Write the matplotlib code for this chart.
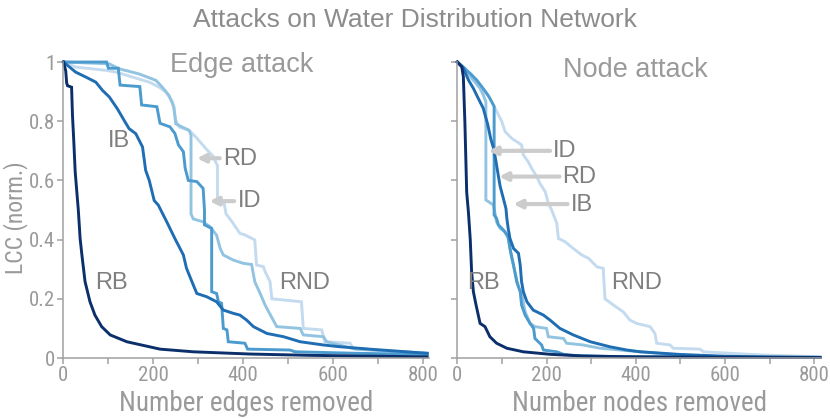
import matplotlib
matplotlib.use("Agg")
import matplotlib.pyplot as plt
from matplotlib import font_manager

# fuentes: una estrecha si existe, si no la normal con tamaño menor
nombres = {f.name for f in font_manager.fontManager.ttflist}
narrow = None
for cand in ['Liberation Sans Narrow', 'Roboto Condensed', 'DejaVu Sans Condensed', 'Open Sans Condensed']:
    if cand in nombres:
        narrow = cand
        break
regular = 'Liberation Sans'
if narrow is None:
    narrow = regular
    size_lbl, size_ylbl, size_tick = 16.5, 14.5, 12.5
elif narrow == 'DejaVu Sans Condensed':
    size_lbl, size_ylbl, size_tick = 16.5, 14.5, 12.5
else:
    size_lbl, size_ylbl, size_tick = 19.5, 17, 15

# ---- datos: ataque por aristas ----
rnd_edge_x = [0, 27, 94, 117, 154, 191, 213, 228, 243, 250, 258, 280, 295, 321, 332, 343, 343, 358, 362, 376,
              393, 404, 426, 430, 445, 449, 460, 464, 530, 534, 575, 582, 638, 645, 720, 810]
rnd_edge_y = [1, 0.983, 0.972, 0.966, 0.949, 0.932, 0.915, 0.899, 0.865, 0.803, 0.78, 0.769, 0.746, 0.701, 0.684,
              0.65, 0.543, 0.521, 0.487, 0.459, 0.421, 0.416, 0.399, 0.314, 0.309, 0.292, 0.258, 0.20, 0.19, 0.10,
              0.095, 0.055, 0.05, 0.033, 0.024, 0.016]

rd_edge_x = [0, 50, 102, 124, 168, 206, 220, 235, 246, 250, 265, 280, 284, 284, 289, 311, 326, 341, 349, 356,
             378, 400, 419, 426, 438, 449, 467, 475, 527, 534, 579, 586, 650, 810]
rd_edge_y = [1, 0.997, 0.994, 0.977, 0.96, 0.938, 0.915, 0.887, 0.848, 0.791, 0.78, 0.769, 0.752, 0.487, 0.47,
             0.46, 0.444, 0.415, 0.37, 0.348, 0.331, 0.32, 0.316, 0.258, 0.218, 0.179, 0.128, 0.106, 0.10, 0.078,
             0.072, 0.055, 0.03, 0.016]

id_edge_x = [0, 96, 100, 122, 126, 170, 174, 208, 215, 237, 248, 256, 267, 271, 278, 297, 311, 314, 314, 330,
             330, 341, 345, 352, 356, 364, 367, 404, 410, 504, 516, 650, 810]
id_edge_y = [1, 1.0, 0.979, 0.979, 0.922, 0.917, 0.855, 0.849, 0.793, 0.781, 0.759, 0.72, 0.697, 0.641, 0.60,
             0.596, 0.573, 0.50, 0.45, 0.438, 0.224, 0.218, 0.19, 0.185, 0.10, 0.095, 0.055, 0.05, 0.03, 0.027,
             0.021, 0.016, 0.012]

ib_edge_x = [0, 27, 50, 72, 87, 102, 120, 135, 146, 161, 176, 183, 191, 202, 211, 230, 248, 267, 274, 289, 297,
             319, 341, 356, 378, 393, 408, 423, 453, 490, 527, 579, 616, 690, 810]
ib_edge_y = [1, 0.966, 0.949, 0.932, 0.904, 0.882, 0.842, 0.803, 0.775, 0.758, 0.713, 0.634, 0.60, 0.532, 0.517,
             0.46, 0.404, 0.348, 0.303, 0.247, 0.218, 0.207, 0.19, 0.162, 0.151, 0.145, 0.128, 0.106, 0.083, 0.072,
             0.055, 0.044, 0.038, 0.029, 0.016]

rb_edge_x = [0, 5, 7, 9, 18, 20, 23, 26, 29, 33, 37, 41, 48, 59, 70, 85, 104, 141, 215, 289, 415, 550, 700, 810]
rb_edge_y = [1, 0.97, 0.93, 0.92, 0.915, 0.82, 0.73, 0.63, 0.574, 0.5, 0.404, 0.348, 0.258, 0.19, 0.145, 0.106,
             0.078, 0.055, 0.030, 0.021, 0.0135, 0.009, 0.006, 0.004]

# ---- datos: ataque por nodos ----
rnd_node_x = [0, 13.5, 28.4, 43, 58, 69.5, 84.5, 99.5, 107, 122, 144, 148, 159, 167, 178, 185, 197, 204, 211.5,
              223, 226.5, 241.5, 260, 279, 294, 313, 327, 331, 350, 372, 387, 402, 432, 443, 447, 477, 484, 544,
              552, 611, 686, 813]
rnd_node_y = [1, 0.984, 0.95, 0.928, 0.90, 0.888, 0.844, 0.80, 0.765, 0.742, 0.72, 0.686, 0.663, 0.64, 0.613,
              0.59, 0.562, 0.523, 0.50, 0.455, 0.404, 0.393, 0.37, 0.348, 0.337, 0.308, 0.303, 0.20, 0.179, 0.156,
              0.128, 0.117, 0.106, 0.083, 0.05, 0.044, 0.033, 0.030, 0.021, 0.016, 0.01, 0.004]

rd_node_x = [0, 17, 36, 51, 58, 64, 64, 81, 88, 96, 107, 114, 122, 129, 137, 144, 152, 163, 174, 200, 204, 238,
             245, 282, 320, 410, 500, 600, 813]
rd_node_y = [1, 0.979, 0.939, 0.911, 0.889, 0.866, 0.534, 0.517, 0.46, 0.438, 0.427, 0.404, 0.337, 0.292, 0.241,
             0.218, 0.156, 0.117, 0.106, 0.10, 0.072, 0.066, 0.05, 0.044, 0.033, 0.021, 0.01, 0.004, 0.002]

id_node_x = [0, 28.5, 43.5, 54.7, 66, 73, 82.5, 82.5, 88, 92, 103, 114, 118, 126, 133, 141, 144, 152, 163, 171,
             174, 189, 193, 223, 238, 267, 357, 813]
id_node_y = [1, 0.962, 0.939, 0.917, 0.894, 0.877, 0.85, 0.483, 0.472, 0.45, 0.433, 0.41, 0.37, 0.314, 0.258,
             0.224, 0.179, 0.145, 0.117, 0.10, 0.066, 0.044, 0.027, 0.021, 0.0125, 0.008, 0.0045, 0.002]

ib_node_x = [0, 13.5, 25, 36, 47, 58, 68, 75, 81, 86, 92, 96, 103, 109, 111, 114, 118, 126, 137, 141, 144, 148,
             156, 170, 193, 208, 230, 260, 298, 342, 380, 410, 500, 600, 700, 813]
ib_node_y = [1, 0.979, 0.939, 0.911, 0.877, 0.844, 0.79, 0.74, 0.71, 0.67, 0.615, 0.58, 0.54, 0.505, 0.472, 0.438,
             0.404, 0.37, 0.354, 0.314, 0.258, 0.224, 0.19, 0.162, 0.145, 0.128, 0.10, 0.078, 0.055, 0.038, 0.027,
             0.021, 0.012, 0.006, 0.003, 0.002]

rb_node_x = [0, 10, 13.5, 17, 21, 25, 29, 32, 36, 42, 51, 62, 73, 88, 111, 148, 208, 282, 400, 550, 813]
rb_node_y = [1, 0.984, 0.95, 0.793, 0.56, 0.49, 0.40, 0.292, 0.224, 0.179, 0.117, 0.106, 0.072, 0.05, 0.033,
             0.021, 0.0125, 0.0068, 0.004, 0.003, 0.002]

colores = {'RND': '#c4dbef', 'RD': '#92c4e2', 'ID': '#4b9bcf', 'IB': '#1f6db3', 'RB': '#0b2f6b'}
gris_eje = '#a0a0a0'
gris_txt = '#9a9a9a'
gris_lbl = '#7f7f7f'
gris_flecha = '#cccccc'

fig = plt.figure(figsize=(8.3, 4.18), dpi=100)
ax1 = fig.add_axes([0.0765, 0.1435, 0.4409, 0.7081])
ax2 = fig.add_axes([0.551, 0.1435, 0.438, 0.7081])

series_edge = [('RND', rnd_edge_x, rnd_edge_y), ('RD', rd_edge_x, rd_edge_y), ('ID', id_edge_x, id_edge_y),
               ('IB', ib_edge_x, ib_edge_y), ('RB', rb_edge_x, rb_edge_y)]
series_node = [('RND', rnd_node_x, rnd_node_y), ('RD', rd_node_x, rd_node_y), ('ID', id_node_x, id_node_y),
               ('IB', ib_node_x, ib_node_y), ('RB', rb_node_x, rb_node_y)]

for ax, series in [(ax1, series_edge), (ax2, series_node)]:
    for nombre, xs, ys in series:
        ax.plot(xs, ys, color=colores[nombre], lw=2.1, clip_on=False, solid_joinstyle='miter')
    ax.set_xlim(0, 815)
    ax.set_ylim(0, 1)
    for lado in ['top', 'right']:
        ax.spines[lado].set_visible(False)
    for lado in ['left', 'bottom']:
        ax.spines[lado].set_color(gris_eje)
        ax.spines[lado].set_linewidth(1.1)
    ax.set_xticks(range(0, 801, 100))
    ax.set_xticklabels(['0', '', '200', '', '400', '', '600', '', '800'])
    ax.set_yticks([0, 0.2, 0.4, 0.6, 0.8, 1])
    ax.tick_params(colors=gris_eje, labelcolor=gris_txt, length=4, width=1.1, labelsize=size_tick, pad=2)
    for t in ax.get_xticklabels() + ax.get_yticklabels():
        t.set_fontfamily(narrow)

ax1.set_yticklabels(['0', '0.2', '0.4', '0.6', '0.8', '1'])
ax2.set_yticklabels([])

ax1.set_xlabel('Number edges removed', fontsize=size_lbl, color=gris_txt, family=narrow)
ax2.set_xlabel('Number nodes removed', fontsize=size_lbl, color=gris_txt, family=narrow)
ax1.set_ylabel('LCC (norm.)', fontsize=size_ylbl, color=gris_txt, family=narrow)
ax1.xaxis.set_label_coords(0.5, -0.108)
ax2.xaxis.set_label_coords(0.5, -0.108)
ax1.yaxis.set_label_coords(-0.097, 0.475)

ax1.text(397, 0.967, 'Edge attack', fontsize=19.5, color=gris_txt, family=regular, ha='center', va='baseline')
ax2.text(400, 0.95, 'Node attack', fontsize=19.5, color=gris_txt, family=regular, ha='center', va='baseline')
fig.text(0.5, 1 - 27 / 418, 'Attacks on Water Distribution Network', fontsize=19, color='#8c8c8c',
         family=regular, ha='center', va='baseline')

# etiquetas y flechas
flecha = dict(arrowstyle='-|>', color=gris_flecha, lw=3, mutation_scale=12, shrinkA=0, shrinkB=0)
kw = dict(fontsize=17, color=gris_lbl, family=regular, va='center')

ax1.text(124, 0.733, 'IB', ha='center', **kw)
ax1.text(107, 0.255, 'RB', ha='center', **kw)
ax1.text(355, 0.672, 'RD', ha='left', **kw)
ax1.text(389, 0.529, 'ID', ha='left', **kw)
ax1.text(480, 0.255, 'RND', ha='left', **kw)
ax1.annotate('', xy=(297, 0.675), xytext=(348, 0.675), arrowprops=flecha)
ax1.annotate('', xy=(325, 0.530), xytext=(380, 0.530), arrowprops=flecha)

ax2.text(214, 0.70, 'ID', ha='left', **kw)
ax2.text(236, 0.61, 'RD', ha='left', **kw)
ax2.text(254, 0.517, 'IB', ha='left', **kw)
ax2.text(21, 0.255, 'RB', ha='left', **kw)
ax2.text(344, 0.255, 'RND', ha='left', **kw)
ax2.annotate('', xy=(69.5, 0.70), xytext=(208, 0.70), arrowprops=flecha)
ax2.annotate('', xy=(93.5, 0.613), xytext=(229, 0.613), arrowprops=flecha)
ax2.annotate('', xy=(125.6, 0.52), xytext=(247, 0.52), arrowprops=flecha)

fig.savefig('out.png', dpi=100)
